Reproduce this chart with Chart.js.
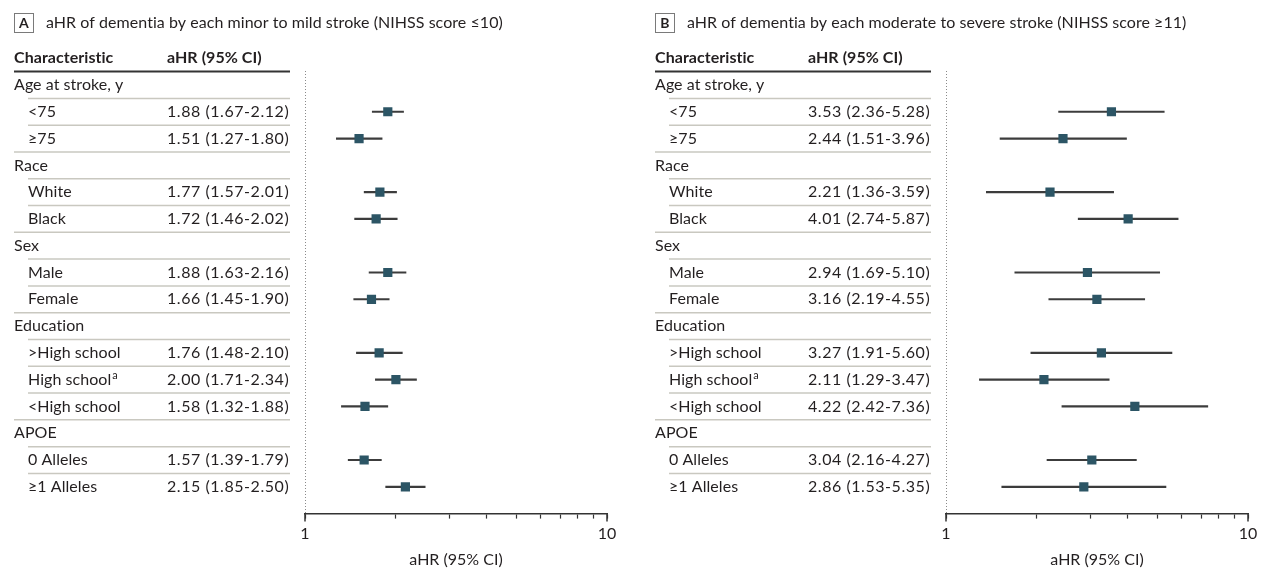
<!DOCTYPE html>
<html><head><meta charset="utf-8">
<script src="https://cdn.jsdelivr.net/npm/chart.js@4.4.1/dist/chart.umd.min.js"></script>
<style>
html,body{margin:0;padding:0;background:#fff;}
#wrap{position:relative;width:1265px;height:581px;overflow:hidden;background:#fff}
.pane{position:absolute;top:0;width:624px;height:581px}
</style></head><body>
<div id="wrap">
<div class="pane" style="left:0"><canvas id="cA" width="624" height="581"></canvas></div>
<div class="pane" style="left:641px"><canvas id="cB" width="624" height="581"></canvas></div>
</div>
<script>
// ---- data ----
const rowLabels = ['Age at stroke, y','<75','\u226575','Race','White','Black','Sex','Male','Female','Education','>High school','High school','<High school','APOE','0 Alleles','\u22651 Alleles'];
const groupRows = [0,3,6,9,13];
const superscriptRows = {11:'a'};
const titleA = 'aHR of dementia by each minor to mild stroke (NIHSS score \u226410)';
const titleB = 'aHR of dementia by each moderate to severe stroke (NIHSS score \u226511)';
const hrA = [null,1.88,1.51,null,1.77,1.72,null,1.88,1.66,null,1.76,2.00,1.58,null,1.57,2.15];
const loA = [null,1.67,1.27,null,1.57,1.46,null,1.63,1.45,null,1.48,1.71,1.32,null,1.39,1.85];
const hiA = [null,2.12,1.80,null,2.01,2.02,null,2.16,1.90,null,2.10,2.34,1.88,null,1.79,2.50];
const hrB = [null,3.53,2.44,null,2.21,4.01,null,2.94,3.16,null,3.27,2.11,4.22,null,3.04,2.86];
const loB = [null,2.36,1.51,null,1.36,2.74,null,1.69,2.19,null,1.91,1.29,2.42,null,2.16,1.53];
const hiB = [null,5.28,3.96,null,3.59,5.87,null,5.10,4.55,null,5.60,3.47,7.36,null,4.27,5.35];
const xTickValues = [1,10];
const xTickLabels = ['1','10'];
const colHeaders = ['Characteristic','aHR (95% CI)'];
const axisTitle = 'aHR (95% CI)';

// ---- style ----
const FONT = 'Lato';
const FS = 16;
const TXT = '#231f20';
const MARK = '#2c5565';
const BARC = '#3c3c3c';
const LS = '0.05px'; // non-zero spacing disables ligatures

function fmt(v){ return v.toFixed(2); }

function tablePlugin(letter, title, hr, lo, hi){
  return {
    id:'table'+letter,
    afterDraw(chart){
      const ctx = chart.ctx;
      const ys = chart.scales.y, xs = chart.scales.x;
      const px = i => ys.getPixelForValue(i);
      ctx.save();
      ctx.letterSpacing = LS;
      // panel letter box
      ctx.strokeStyle = '#7a7a7a'; ctx.lineWidth = 1;
      ctx.strokeRect(14.5,13.5,19,19);
      ctx.fillStyle = TXT; ctx.textBaseline = 'middle'; ctx.textAlign = 'center';
      ctx.font = 'bold 14px ' + FONT;
      ctx.fillText(letter, 24, 23.5);
      ctx.textAlign = 'left';
      ctx.font = FS + 'px ' + FONT;
      ctx.fillText(title, 46, 23);
      // column headers
      const hy = px(-1);
      ctx.font = 'bold ' + FS + 'px ' + FONT;
      ctx.fillText(colHeaders[0], 14, hy);
      ctx.fillText(colHeaders[1], 167, hy);
      // header underline
      ctx.strokeStyle = '#333'; ctx.lineWidth = 2;
      ctx.beginPath(); const uy = px(-0.5); ctx.moveTo(14, uy); ctx.lineTo(290, uy); ctx.stroke();
      // rows
      for(let i=0;i<rowLabels.length;i++){
        const y = px(i);
        const isG = groupRows.includes(i);
        const x0 = isG ? 14 : 28;
        ctx.font = FS + 'px ' + FONT;
        ctx.letterSpacing = LS;
        ctx.fillText(rowLabels[i], x0, y);
        if(superscriptRows[i]){
          const w = ctx.measureText(rowLabels[i]).width;
          ctx.font = '11px ' + FONT;
          ctx.fillText(superscriptRows[i], x0 + w + 1, y - 4);
          ctx.font = FS + 'px ' + FONT;
        }
        if(hr[i] != null){
          ctx.letterSpacing = '0.55px';
          ctx.fillText(fmt(hr[i]) + ' (' + fmt(lo[i]) + '-' + fmt(hi[i]) + ')', 167, y);
          ctx.letterSpacing = LS;
        }
        if(i < rowLabels.length-1){
          const ly = px(i+0.5);
          const nextG = groupRows.includes(i+1);
          ctx.strokeStyle = '#c9c8c0'; ctx.lineWidth = 1.5;
          ctx.beginPath(); ctx.moveTo(nextG ? 14 : 28, ly); ctx.lineTo(290, ly); ctx.stroke();
        }
      }
      // dotted reference line at 1
      const x1 = Math.round(xs.getPixelForValue(1)) + 0.5;
      ctx.strokeStyle = '#8a8a8a'; ctx.lineWidth = 1; ctx.setLineDash([1,2]);
      ctx.beginPath(); ctx.moveTo(x1, chart.chartArea.top); ctx.lineTo(x1, chart.chartArea.bottom); ctx.stroke();
      ctx.setLineDash([]);
      // longer major ticks
      ctx.strokeStyle = '#333'; ctx.lineWidth = 1.5;
      xTickValues.forEach(v=>{
        const xx = xs.getPixelForValue(v);
        ctx.beginPath(); ctx.moveTo(xx, chart.chartArea.bottom); ctx.lineTo(xx, chart.chartArea.bottom + 8); ctx.stroke();
      });
      ctx.restore();
    }
  };
}

function makeChart(id, letter, title, hr, lo, hi){
  const pts = [], bars = [];
  hr.forEach((v,i)=>{ if(v!=null){ pts.push({x:v, y:i}); bars.push({x:[lo[i],hi[i]], y:i}); } });
  return new Chart(document.getElementById(id), {
    type:'bar',
    data:{ datasets:[
      { type:'scatter', data:pts, pointStyle:'rect', pointRadius:6.5, pointHoverRadius:6.5,
        backgroundColor:MARK, borderWidth:0, order:0 },
      { type:'bar', data:bars, backgroundColor:BARC, borderWidth:0, barThickness:1.5, order:1 }
    ]},
    options:{
      indexAxis:'y', responsive:false, animation:false, devicePixelRatio:1,
      layout:{ padding:{ left:305, right:17, top:71, bottom:12 } },
      plugins:{ legend:{display:false}, tooltip:{enabled:false} },
      scales:{
        y:{ type:'linear', reverse:true, min:-0.522, max:16.0, display:false, offset:false },
        x:{ type:'logarithmic', min:1, max:10, position:'bottom', offset:false,
          afterBuildTicks:(s)=>{ s.ticks = s.ticks.filter(t=>Math.abs(t.value - Math.round(t.value)) < 1e-9); },
          border:{display:true, color:'#333', width:1.5},
          grid:{display:true, drawOnChartArea:false, drawTicks:true, tickLength:5, tickColor:'#333', tickWidth:1.2},
          ticks:{ autoSkip:false, maxRotation:0, padding:6, color:TXT, font:{family:FONT, size:FS},
            callback:(v)=>{ const k = xTickValues.indexOf(v); return k>=0 ? xTickLabels[k] : ''; } },
          title:{ display:true, text:axisTitle, color:TXT, font:{family:FONT, size:FS}, padding:{top:0, bottom:0} }
        }
      }
    },
    plugins:[tablePlugin(letter, title, hr, lo, hi)]
  });
}
makeChart('cA','A',titleA,hrA,loA,hiA);
makeChart('cB','B',titleB,hrB,loB,hiB);
</script>
</body></html>
